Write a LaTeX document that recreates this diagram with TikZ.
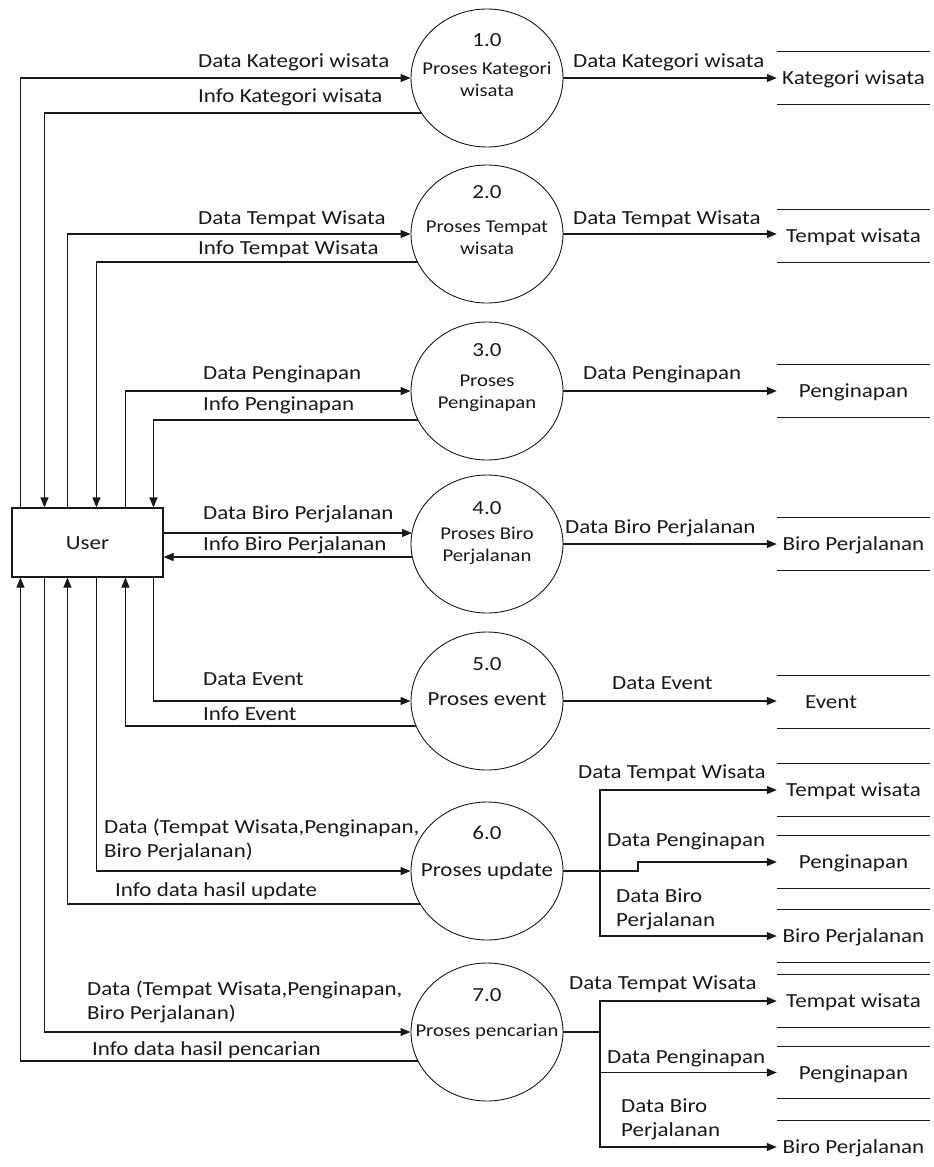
\documentclass[tikz,border=0pt]{standalone}
\usepackage{fontspec}
\setmainfont{Carlito}[FakeStretch=1.15]
\usetikzlibrary{arrows.meta,shapes.geometric}
\definecolor{ink}{RGB}{25,25,25}
\newcommand\storelines[1]{\draw[sline] (#1.north west) -- (#1.north east) (#1.south west) -- (#1.south east);}
\begin{document}
\begin{tikzpicture}[x=1pt,y=-1pt,
  ln/.style={draw=ink, line width=1.1pt},
  flow/.style={ln, -{Triangle[length=10pt,width=8pt]}},
  sline/.style={draw=ink, line width=1.1pt},
  proc/.style={ellipse, draw=ink, line width=0.9pt, minimum width=152pt, minimum height=138pt, inner sep=0pt},
  ftw/.style={font=\fontsize{20}{24}\selectfont},
  fei/.style={font=\fontsize{18}{22}\selectfont},
  lbl/.style={ftw, text=ink, anchor=base west, inner sep=0pt, align=left},
  num/.style={ftw, text=ink, anchor=base, inner sep=0pt},
  ptxt/.style={fei, text=ink, anchor=base, inner sep=0pt, align=center},
  ptxtb/.style={ftw, text=ink, anchor=base, inner sep=0pt, align=center},
  store/.style={ftw, text=ink, minimum width=153pt, minimum height=52pt, inner sep=0pt, text height=16pt, text depth=3pt},
  user/.style={ftw, text=ink, draw=ink, line width=1.1pt, minimum width=151pt, minimum height=69pt, inner sep=0pt, text height=16pt, text depth=3pt}
]
\useasboundingbox[fill=white] (0,0) rectangle (934,1167);

% user
\node[user] (u) at (87.5,542.5) {User};

% processes
\node[proc] (p1) at (487,78) {};
\node[proc] (p2) at (487,234) {};
\node[proc] (p3) at (487,391) {};
\node[proc] (p4) at (487,544) {};
\node[proc] (p5) at (487,701) {};
\node[proc] (p6) at (487,871) {};
\node[proc] (p7) at (487,1032) {};

% (multi-line texts are placed by the baseline of their last line)
\node[num] (n1) at (487,46) {1.0};
\node[ptxt] (t1) at (487,96) {Proses Kategori\\wisata};
\node[num] (n2) at (487,198) {2.0};
\node[ptxt] (t2) at (487,254) {Proses Tempat\\wisata};
\node[num] (n3) at (487,356) {3.0};
\node[ptxt] (t3) at (487,408) {Proses\\Penginapan};
\node[num] (n4) at (487,514) {4.0};
\node[ptxt] (t4) at (487,561) {Proses Biro\\Perjalanan};
\node[num] (n5) at (487,670) {5.0};
\node[ptxtb] (t5) at (487,705.5) {Proses event};
\node[num] (n6) at (487,839) {6.0};
\node[ptxtb] (t6) at (487,876.5) {Proses update};
\node[num] (n7) at (487,1001) {7.0};
\node[ptxt] (t7) at (487,1036) {Proses pencarian};

% stores
\node[store] (s1) at (853.5,78) {Kategori wisata};
\node[store] (s2) at (853.5,236) {Tempat wisata};
\node[store] (s3) at (853.5,391) {Penginapan};
\node[store] (s4) at (853.5,544) {Biro Perjalanan};
\node[store, label={[ftw, text=ink, inner sep=0pt, text height=16pt, text depth=3pt, xshift=-22.5pt]center:Event}] (s5) at (853.5,702) {};
\node[store] (s6a) at (853.5,790) {Tempat wisata};
\node[store] (s6b) at (853.5,862) {Penginapan};
\node[store] (s6c) at (853.5,936) {Biro Perjalanan};
\node[store] (s7a) at (853.5,1001) {Tempat wisata};
\node[store] (s7b) at (853.5,1072.5) {Penginapan};
\node[store] (s7c) at (853.5,1147) {Biro Perjalanan};
\storelines{s1}\storelines{s2}\storelines{s3}\storelines{s4}\storelines{s5}
\storelines{s6a}\storelines{s6b}\storelines{s6c}\storelines{s7a}\storelines{s7b}
\draw[sline] (s7c.north west) -- (s7c.north east);

% points where return flows leave the processes
\coordinate (p1i) at (421.5,113);
\coordinate (p2i) at (417.5,262);
\coordinate (p3i) at (418,420);
\coordinate (p4d) at (412,533);
\coordinate (p4i) at (412.4,557);
\coordinate (p5i) at (416.2,726);
\coordinate (p6i) at (420.3,904);
\coordinate (p7i) at (418,1061);

% user <-> processes (top side)
\draw[flow] ([xshift=9pt]u.north west) |- (p1.west);
\draw[flow] (p1i) -| ([xshift=33pt]u.north west);
\draw[flow] ([xshift=56pt]u.north west) |- (p2.west);
\draw[flow] (p2i) -| ([xshift=85pt]u.north west);
\draw[flow] ([xshift=114pt]u.north west) |- (p3.west);
\draw[flow] (p3i) -| ([xshift=142pt]u.north west);
% right side
\draw[flow] (u.east |- p4d) -- (p4d);
\draw[flow] (p4i) -- (u.east |- p4i);
% bottom side
\draw[flow] ([xshift=142pt]u.south west) |- (p5.west);
\draw[flow] (p5i) -| ([xshift=114pt]u.south west);
\draw[flow] ([xshift=85pt]u.south west) |- (p6.west);
\draw[flow] (p6i) -| ([xshift=56pt]u.south west);
\draw[flow] ([xshift=33pt]u.south west) |- (p7.west);
\draw[flow] (p7i) -| ([xshift=9pt]u.south west);

% left labels
\node[lbl] (l1) at (198,67.5) {Data Kategori wisata};
\node[lbl] (l2) at (198,102) {Info Kategori wisata};
\node[lbl] (l3) at (198,224) {Data Tempat Wisata};
\node[lbl] (l4) at (198,254) {Info Tempat Wisata};
\node[lbl] (l5) at (203,379) {Data Penginapan};
\node[lbl] (l6) at (203,410.5) {Info Penginapan};
\node[lbl] (l7) at (203,519) {Data Biro Perjalanan};
\node[lbl] (l8) at (203,550) {Info Biro Perjalanan};
\node[lbl] (l9) at (203,685) {Data Event};
\node[lbl] (l10) at (203,720) {Info Event};
\node[lbl] (l11) at (104,857) {Data (Tempat Wisata,Penginapan,\\Biro Perjalanan)};
\node[lbl] (l12) at (115,896) {Info data hasil update};
\node[lbl] (l13) at (87,1019) {Data (Tempat Wisata,Penginapan,\\Biro Perjalanan)};
\node[lbl] (l14) at (92,1055) {Info data hasil pencarian};

% process -> store
\draw[flow] (p1.east) -- (s1.west);
\draw[flow] (p2.east) -- (p2.east -| s2.west);
\draw[flow] (p3.east) -- (s3.west);
\draw[flow] (p4.east) -- (s4.west);
\draw[flow] (p5.east) -- (p5.east -| s5.west);

\coordinate (j6) at (600,871);
\coordinate (k6) at (638,871);
\draw[flow] (p6.east) -- (k6) |- (s6b.west);
\draw[flow] (j6) |- (s6a.west);
\draw[flow] (j6) |- (s6c.west);

\coordinate (j7) at (600,1032);
\draw[ln] (p7.east) -- (j7);
\draw[flow] (j7) |- (s7a.west);
\draw[flow] (j7) |- (s7b.west);
\draw[flow] (j7) |- (s7c.west);

% right labels
\node[lbl] (r1) at (573,67.5) {Data Kategori wisata};
\node[lbl] (r2) at (573,224.5) {Data Tempat Wisata};
\node[lbl] (r3) at (583,379.5) {Data Penginapan};
\node[lbl] (r4) at (565,533) {Data Biro Perjalanan};
\node[lbl] (r5) at (612,689) {Data Event};
\node[lbl] (r6a) at (578,778) {Data Tempat Wisata};
\node[lbl] (r6b) at (607,846) {Data Penginapan};
\node[lbl] (r6c) at (616,926.5) {Data Biro\\Perjalanan};
\node[lbl] (r7a) at (569,989) {Data Tempat Wisata};
\node[lbl] (r7b) at (607,1063) {Data Penginapan};
\node[lbl] (r7c) at (621,1136) {Data Biro\\Perjalanan};
\end{tikzpicture}
\end{document}
